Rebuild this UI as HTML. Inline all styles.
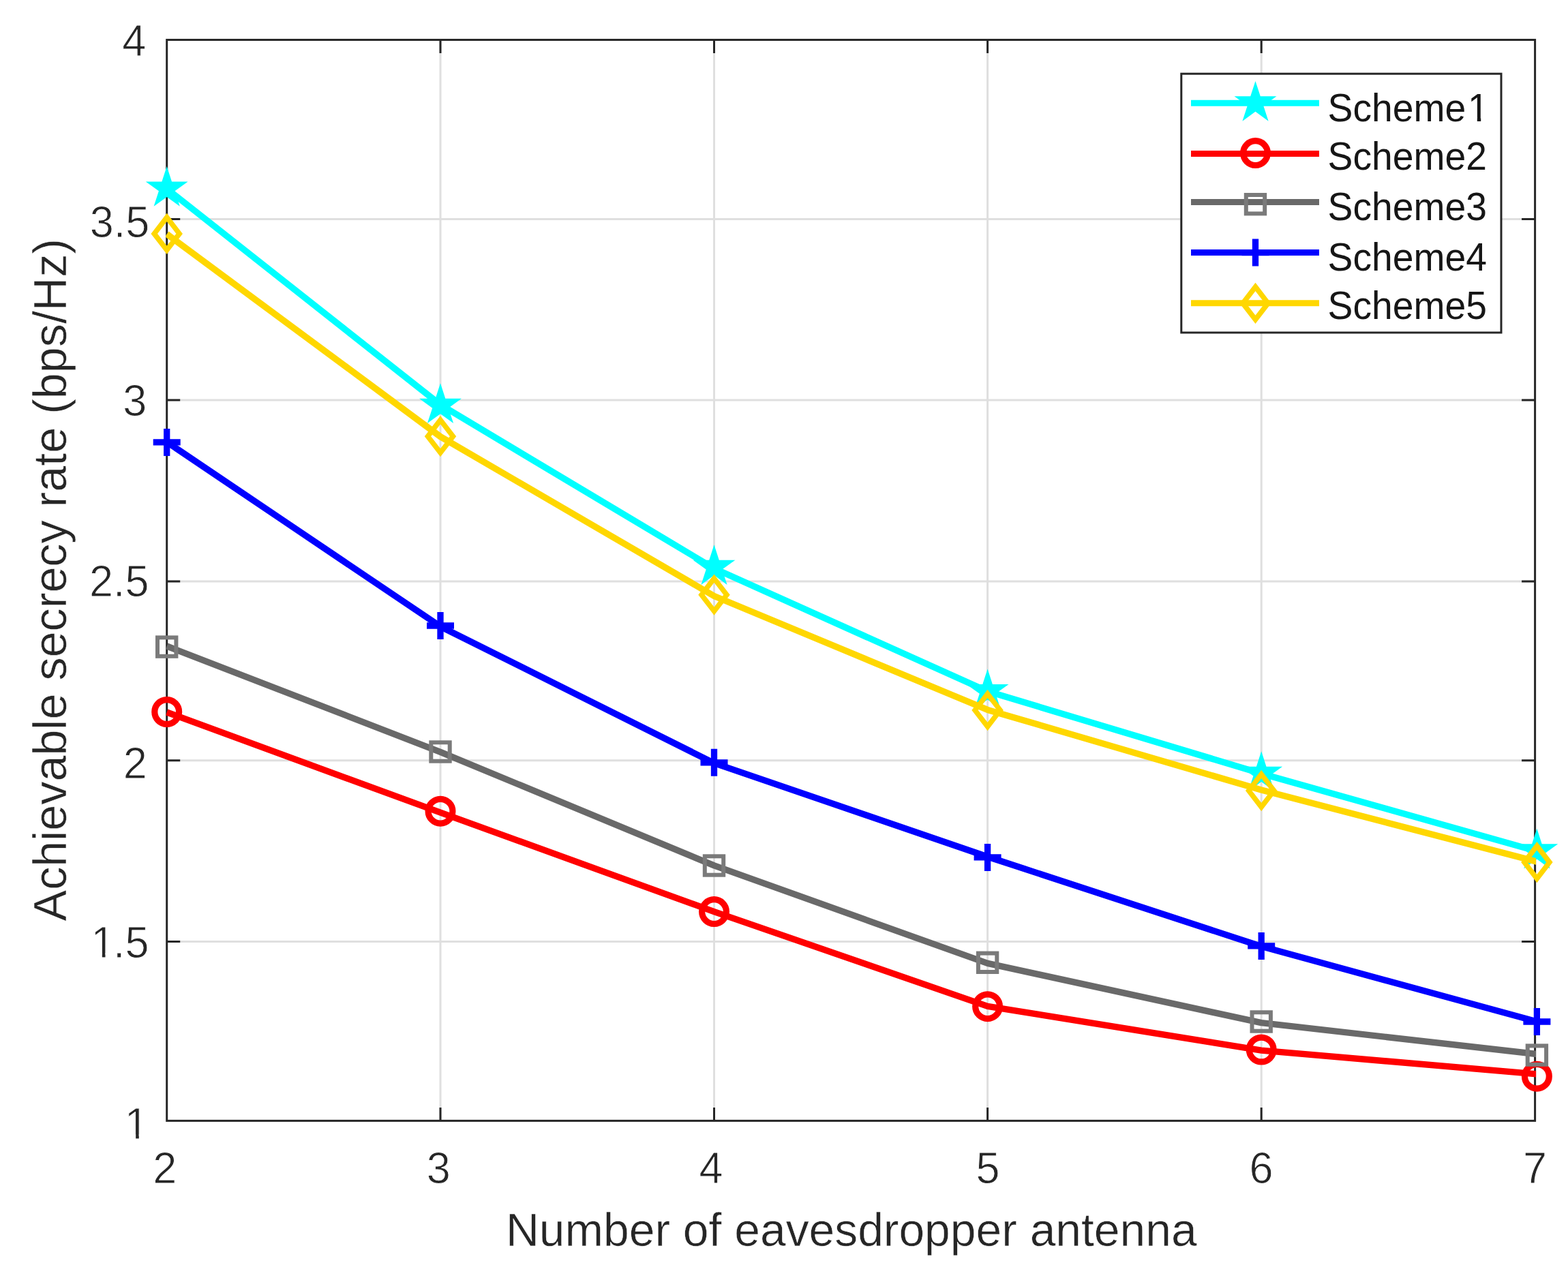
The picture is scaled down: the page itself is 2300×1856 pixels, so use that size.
<!DOCTYPE html>
<html lang="en"><head><meta charset="utf-8"><title>Achievable secrecy rate vs number of eavesdropper antenna</title>
<style>html,body{margin:0;padding:0;background:#fff;}body{width:2300px;height:1856px;overflow:hidden;}svg{display:block;filter:blur(0.75px);}text{font-family:"Liberation Sans",sans-serif;fill:#262626;stroke:#fff;stroke-width:0.9px;stroke-linejoin:round;}.tick{font-size:63px;}.lab{font-size:68px;stroke-width:0.5px;}.leg{font-size:55.5px;fill:#161616;stroke:none;}</style></head><body>
<svg xmlns="http://www.w3.org/2000/svg" width="2300" height="1856" viewBox="0 0 2300 1856">
<defs><clipPath id="ax"><rect x="243.20" y="56.95" width="2009.90" height="1588.95"/></clipPath></defs>
<rect x="0" y="0" width="2300" height="1856" fill="#fff"/>
<path d="M646.00 58.45V1644.40M1047.50 58.45V1644.40M1448.60 58.45V1644.40M1850.20 58.45V1644.40M244.70 1381.50H2251.60M244.70 1115.70H2251.60M244.70 852.90H2251.60M244.70 587.10H2251.60M244.70 321.50H2251.60" stroke="#dfdfdf" stroke-width="3" fill="none"/>
<rect x="244.70" y="58.45" width="2006.90" height="1585.95" fill="none" stroke="#262626" stroke-width="3"/>
<path d="M646.00 1644.40v-19.50M646.00 58.45v19.50M1047.50 1644.40v-19.50M1047.50 58.45v19.50M1448.60 1644.40v-19.50M1448.60 58.45v19.50M1850.20 1644.40v-19.50M1850.20 58.45v19.50M244.70 1381.50h19.50M2251.60 1381.50h-19.50M244.70 1115.70h19.50M2251.60 1115.70h-19.50M244.70 852.90h19.50M2251.60 852.90h-19.50M244.70 587.10h19.50M2251.60 587.10h-19.50M244.70 321.50h19.50M2251.60 321.50h-19.50" stroke="#262626" stroke-width="3" fill="none"/>
<g><polyline clip-path="url(#ax)" points="244.70,276.90 646.00,593.80 1047.50,834.00 1448.60,1014.30 1850.20,1134.90 2254.00,1248.80" fill="none" stroke="#00ffff" stroke-width="9.4" stroke-linejoin="round"/>
<polygon points="244.70,244.00 252.00,266.46 275.61,266.46 256.51,280.34 263.80,302.79 244.70,288.92 225.60,302.79 232.89,280.34 213.79,266.46 237.40,266.46" fill="#00ffff"/>
<polygon points="646.00,562.30 653.30,584.76 676.91,584.76 657.81,598.64 665.10,621.09 646.00,607.21 626.90,621.09 634.19,598.64 615.09,584.76 638.70,584.76" fill="#00ffff"/>
<polygon points="1047.50,799.20 1054.80,821.66 1078.41,821.66 1059.31,835.54 1066.60,857.99 1047.50,844.12 1028.40,857.99 1035.69,835.54 1016.59,821.66 1040.20,821.66" fill="#00ffff"/>
<polygon points="1448.60,981.50 1455.90,1003.96 1479.51,1003.96 1460.41,1017.84 1467.70,1040.29 1448.60,1026.41 1429.50,1040.29 1436.79,1017.84 1417.69,1003.96 1441.30,1003.96" fill="#00ffff"/>
<polygon points="1850.20,1102.20 1857.50,1124.66 1881.11,1124.66 1862.01,1138.54 1869.30,1160.99 1850.20,1147.12 1831.10,1160.99 1838.39,1138.54 1819.29,1124.66 1842.90,1124.66" fill="#00ffff"/>
<polygon points="2254.40,1215.70 2261.70,1238.16 2285.31,1238.16 2266.21,1252.04 2273.50,1274.49 2254.40,1260.62 2235.30,1274.49 2242.59,1252.04 2223.49,1238.16 2247.10,1238.16" fill="#00ffff"/>
</g>
<g><polyline clip-path="url(#ax)" points="244.70,1045.00 646.00,1192.20 1047.50,1337.60 1448.60,1476.40 1850.20,1541.10 2254.00,1575.90" fill="none" stroke="#ff0000" stroke-width="9.4" stroke-linejoin="round"/>
<circle cx="244.70" cy="1044.50" r="17.90" fill="none" stroke="#ff0000" stroke-width="9.20"/>
<circle cx="646.00" cy="1190.20" r="17.90" fill="none" stroke="#ff0000" stroke-width="9.20"/>
<circle cx="1047.50" cy="1337.60" r="17.90" fill="none" stroke="#ff0000" stroke-width="9.20"/>
<circle cx="1448.60" cy="1476.70" r="17.90" fill="none" stroke="#ff0000" stroke-width="9.20"/>
<circle cx="1850.20" cy="1540.00" r="17.90" fill="none" stroke="#ff0000" stroke-width="9.20"/>
<circle cx="2254.40" cy="1579.20" r="17.90" fill="none" stroke="#ff0000" stroke-width="9.20"/>
</g>
<g><polyline clip-path="url(#ax)" points="244.70,948.00 646.00,1103.30 1047.50,1269.90 1448.60,1413.40 1850.20,1500.70 2254.00,1546.50" fill="none" stroke="#696969" stroke-width="9.4" stroke-linejoin="round"/>
<rect x="231.00" y="935.40" width="27.40" height="27.40" fill="none" stroke="#7a7a7a" stroke-width="6.00"/>
<rect x="632.30" y="1089.30" width="27.40" height="27.40" fill="none" stroke="#7a7a7a" stroke-width="6.00"/>
<rect x="1033.80" y="1256.30" width="27.40" height="27.40" fill="none" stroke="#7a7a7a" stroke-width="6.00"/>
<rect x="1434.90" y="1398.60" width="27.40" height="27.40" fill="none" stroke="#7a7a7a" stroke-width="6.00"/>
<rect x="1836.50" y="1485.30" width="27.40" height="27.40" fill="none" stroke="#7a7a7a" stroke-width="6.00"/>
<rect x="2240.70" y="1534.40" width="27.40" height="27.40" fill="none" stroke="#7a7a7a" stroke-width="6.00"/>
</g>
<g><polyline clip-path="url(#ax)" points="244.70,648.50 646.00,919.20 1047.50,1119.60 1448.60,1257.00 1850.20,1388.50 2254.00,1498.80" fill="none" stroke="#0000ff" stroke-width="9.4" stroke-linejoin="round"/>
<path d="M224.70 648.90H264.70M244.70 628.90V668.90" fill="none" stroke="#0000ff" stroke-width="9.30"/>
<path d="M626.00 918.00H666.00M646.00 898.00V938.00" fill="none" stroke="#0000ff" stroke-width="9.30"/>
<path d="M1027.50 1118.80H1067.50M1047.50 1098.80V1138.80" fill="none" stroke="#0000ff" stroke-width="9.30"/>
<path d="M1428.60 1257.90H1468.60M1448.60 1237.90V1277.90" fill="none" stroke="#0000ff" stroke-width="9.30"/>
<path d="M1830.20 1387.90H1870.20M1850.20 1367.90V1407.90" fill="none" stroke="#0000ff" stroke-width="9.30"/>
<path d="M2234.40 1499.00H2274.40M2254.40 1479.00V1519.00" fill="none" stroke="#0000ff" stroke-width="9.30"/>
</g>
<g><polyline clip-path="url(#ax)" points="244.70,343.40 646.00,640.60 1047.50,874.50 1448.60,1041.40 1850.20,1159.00 2254.00,1264.20" fill="none" stroke="#ffd700" stroke-width="9.4" stroke-linejoin="round"/>
<polygon points="244.70,318.90 263.20,342.90 244.70,366.90 226.20,342.90" fill="none" stroke="#ffd700" stroke-width="7.50" stroke-linejoin="miter"/>
<polygon points="646.00,616.20 664.50,640.20 646.00,664.20 627.50,640.20" fill="none" stroke="#ffd700" stroke-width="7.50" stroke-linejoin="miter"/>
<polygon points="1047.50,848.70 1066.00,872.70 1047.50,896.70 1029.00,872.70" fill="none" stroke="#ffd700" stroke-width="7.50" stroke-linejoin="miter"/>
<polygon points="1448.60,1018.00 1467.10,1042.00 1448.60,1066.00 1430.10,1042.00" fill="none" stroke="#ffd700" stroke-width="7.50" stroke-linejoin="miter"/>
<polygon points="1850.20,1136.00 1868.70,1160.00 1850.20,1184.00 1831.70,1160.00" fill="none" stroke="#ffd700" stroke-width="7.50" stroke-linejoin="miter"/>
<polygon points="2254.40,1241.10 2272.90,1265.10 2254.40,1289.10 2235.90,1265.10" fill="none" stroke="#ffd700" stroke-width="7.50" stroke-linejoin="miter"/>
</g>
<text class="tick" transform="translate(241.70 1735.60) scale(1.000 1.030)" text-anchor="middle">2</text>
<text class="tick" transform="translate(643.20 1735.60) scale(1.000 1.030)" text-anchor="middle">3</text>
<text class="tick" transform="translate(1043.10 1735.60) scale(1.000 1.030)" text-anchor="middle">4</text>
<text class="tick" transform="translate(1449.00 1735.60) scale(1.000 1.030)" text-anchor="middle">5</text>
<text class="tick" transform="translate(1850.00 1735.60) scale(1.000 1.030)" text-anchor="middle">6</text>
<text class="tick" transform="translate(2251.50 1735.60) scale(1.000 1.030)" text-anchor="middle">7</text>
<text class="tick" transform="translate(214.30 81.60) scale(1.000 1.030)" text-anchor="end">4</text>
<text class="tick" transform="translate(219.20 347.80) scale(1.000 1.030)" text-anchor="end">3.5</text>
<text class="tick" transform="translate(215.40 609.50) scale(1.000 1.030)" text-anchor="end">3</text>
<text class="tick" transform="translate(218.50 875.10) scale(1.000 1.030)" text-anchor="end">2.5</text>
<text class="tick" transform="translate(215.80 1141.60) scale(1.000 1.030)" text-anchor="end">2</text>
<text class="tick" transform="translate(215.90 1404.60) scale(1.000 1.030)" text-anchor="end"><tspan dx="2.6">1</tspan><tspan dx="-2.6">.5</tspan></text>
<rect x="137.30" y="1398.53" width="12.51" height="7.47" fill="#fff"/><rect x="154.46" y="1398.53" width="12.14" height="7.47" fill="#fff"/>
<text class="tick" transform="translate(217.90 1670.50) scale(1.000 1.030)" text-anchor="end">1</text>
<rect x="186.64" y="1664.43" width="12.51" height="7.47" fill="#fff"/><rect x="203.80" y="1664.43" width="12.14" height="7.47" fill="#fff"/>
<text class="lab" transform="translate(1248.80 1827.80) scale(0.997 1.020)" text-anchor="middle">Number of eavesdropper antenna</text>
<text class="lab" transform="translate(97.40 850.70) rotate(-90) scale(1.004 1.020)" text-anchor="middle">Achievable secrecy rate (bps/Hz)</text>
<rect x="1732.80" y="108.20" width="469.20" height="379.80" fill="#fff" stroke="#262626" stroke-width="3"/>
<path d="M1747.00 151.30H1935.00" stroke="#00ffff" stroke-width="9.0" fill="none"/>
<polygon points="1841.50,118.90 1848.80,141.36 1872.41,141.36 1853.31,155.24 1860.60,177.69 1841.50,163.81 1822.40,177.69 1829.69,155.24 1810.59,141.36 1834.20,141.36" fill="#00ffff"/>
<text class="leg" transform="translate(1947.60 177.70) scale(0.995 1.035)" text-anchor="start">Scheme<tspan dx="3">1</tspan></text>
<rect x="2156.48" y="172.19" width="10.28" height="6.91" fill="#fff"/><rect x="2172.22" y="172.19" width="9.94" height="6.91" fill="#fff"/>
<path d="M1747.00 225.50H1935.00" stroke="#ff0000" stroke-width="9.0" fill="none"/>
<circle cx="1841.50" cy="224.60" r="17.90" fill="none" stroke="#ff0000" stroke-width="9.20"/>
<text class="leg" transform="translate(1947.60 248.80) scale(0.995 1.035)" text-anchor="start">Scheme2</text>
<path d="M1747.00 296.60H1935.00" stroke="#696969" stroke-width="9.0" fill="none"/>
<rect x="1827.80" y="286.00" width="27.40" height="27.40" fill="none" stroke="#7a7a7a" stroke-width="6.00"/>
<text class="leg" transform="translate(1947.60 322.60) scale(0.995 1.035)" text-anchor="start">Scheme3</text>
<path d="M1747.00 370.60H1935.00" stroke="#0000ff" stroke-width="9.0" fill="none"/>
<path d="M1821.50 370.60H1861.50M1841.50 350.60V390.60" fill="none" stroke="#0000ff" stroke-width="9.30"/>
<text class="leg" transform="translate(1947.60 396.70) scale(0.995 1.035)" text-anchor="start">Scheme4</text>
<path d="M1747.00 444.80H1935.00" stroke="#ffd700" stroke-width="9.0" fill="none"/>
<polygon points="1841.50,420.90 1860.00,444.90 1841.50,468.90 1823.00,444.90" fill="none" stroke="#ffd700" stroke-width="7.50" stroke-linejoin="miter"/>
<text class="leg" transform="translate(1947.60 468.10) scale(0.995 1.035)" text-anchor="start">Scheme5</text>
</svg></body></html>
